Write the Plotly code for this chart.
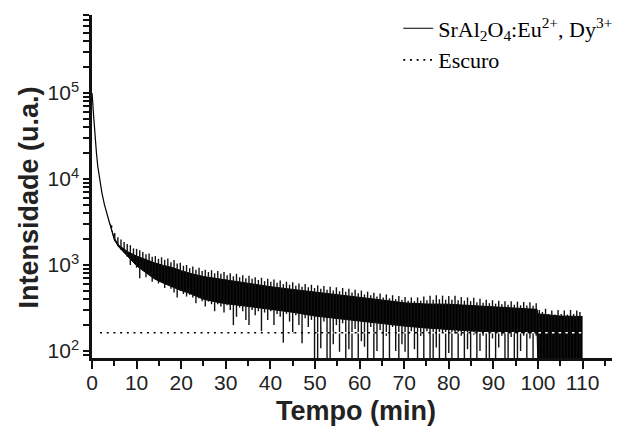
import plotly.graph_objects as go

# ---------------- data ----------------
# smooth initial decay (min, a.u.)
decay_t = [0, 0.05, 0.15, 0.3, 0.5, 0.75, 1.0, 1.3, 1.7, 2.2, 2.8, 3.4, 4.0]
decay_v = [1.0e5, 9.5e4, 8.0e4, 6.0e4, 4.2e4, 2.8e4, 2.0e4, 1.4e4, 1.0e4, 7.0e3, 5.0e3, 3.8e3, 3.0e3]

# solid core of the noisy signal band (read at a few times)
env_t = [4, 5, 6, 7, 8, 10, 12, 14, 16, 18, 20, 22, 25, 28, 30, 35, 40, 45, 50, 55,
         60, 65, 70, 75, 80, 85, 90, 95, 99.8, 100, 105, 110]
env_hi = [3050, 2050, 1700, 1560, 1430, 1270, 1150, 1060, 990, 935, 860, 800, 735, 695, 670, 615,
          560, 520, 485, 455, 428, 392, 363, 352, 350, 338, 322, 313, 305, 270, 255, 252]
env_lo = [3000, 1950, 1620, 1430, 1260, 980, 820, 690, 615, 555, 505, 465, 400, 370, 355, 330,
          305, 282, 255, 238, 222, 208, 195, 185, 177, 171, 167, 164, 162, 60, 60, 60]

# per-sample extremes of the noise (one reading every 0.7 min from 4.4 min)
noise_max = [2900, 2350, 2100, 1980, 1850, 1760, 1700, 1560, 1540, 1480,
             1420, 1330, 1360, 1250, 1270, 1180, 1230, 1150, 1190, 1080,
             1140, 1040, 1060, 980, 1000, 920, 960, 880, 930, 850,
             880, 830, 870, 800, 850, 790, 830, 760, 800, 740,
             790, 720, 760, 700, 750, 690, 720, 670, 710, 650,
             690, 640, 680, 620, 660, 600, 640, 590, 630, 575,
             610, 560, 600, 550, 590, 540, 580, 530, 570, 515,
             560, 505, 550, 495, 540, 490, 530, 480, 515, 470,
             505, 455, 490, 445, 475, 430, 465, 420, 455, 410,
             445, 400, 435, 395, 425, 385, 420, 380, 420, 385,
             430, 390, 440, 395, 445, 400, 440, 395, 435, 395,
             440, 390, 425, 385, 420, 380, 415, 370, 405, 365,
             395, 360, 390, 355, 385, 350, 380, 345, 380, 345,
             375, 340, 372, 338, 370, 335, 360, 300, 285, 310,
             270, 295, 265, 300, 270, 295, 265, 300, 270, 295,
             285]
noise_min = [2700, 1900, 1650, 1500, 1380, 1250, 1000, 1080, 930, 700,
             860, 720, 760, 640, 690, 610, 640, 540, 590, 530,
             480, 420, 500, 460, 430, 450, 420, 360, 410, 380,
             330, 375, 350, 290, 350, 330, 280, 340, 300, 200,
             250, 320, 290, 230, 200, 300, 260, 290, 170, 280,
             230, 290, 200, 270, 250, 125, 270, 220, 160, 260,
             200, 123, 240, 190, 230, 60, 60, 108, 220, 60,
             60, 120, 200, 98, 210, 60, 105, 60, 180, 60,
             130, 112, 60, 190, 60, 100, 175, 60, 150, 60,
             190, 100, 60, 120, 98, 60, 170, 105, 60, 150,
             60, 170, 60, 60, 110, 60, 165, 60, 95, 60,
             160, 60, 150, 60, 105, 60, 155, 60, 100, 150,
             60, 60, 140, 60, 110, 150, 60, 60, 145, 60,
             60, 100, 150, 60, 140, 60, 150, 60, 60, 60,
             60, 60, 60, 60, 60, 60, 60, 60, 60, 60,
             60]
noise_t = [round(4.4 + 0.7 * i, 1) for i in range(len(noise_max))]

# dark (background) level
dark_t = [1.8, 110]
dark_v = [163, 163]

legend_main = "SrAl<sub>2</sub>O<sub>4</sub>:Eu<sup>2+</sup>, Dy<sup>3+</sup>"
legend_dark = "Escuro"

x_ticks = [0, 10, 20, 30, 40, 50, 60, 70, 80, 90, 100, 110]
y_decades = [1e2, 1e3, 1e4, 1e5]
y_decade_text = ["10<sup>2</sup>", "10<sup>3</sup>", "10<sup>4</sup>", "10<sup>5</sup>"]

# ---------------- figure ----------------
fig = go.Figure()

# solid band core
fig.add_trace(go.Scatter(x=env_t, y=env_lo, mode="lines", line=dict(color="black", width=1),
                         showlegend=False, hoverinfo="skip"))
fig.add_trace(go.Scatter(x=env_t, y=env_hi, mode="lines", line=dict(color="black", width=1),
                         fill="tonexty", fillcolor="black", showlegend=False, hoverinfo="skip"))

# noise extremes as vertical strokes
sx, sy = [], []
for t, lo, hi in zip(noise_t, noise_min, noise_max):
    sx += [t, t, None]
    sy += [lo, hi, None]
fig.add_trace(go.Scatter(x=sx, y=sy, mode="lines", line=dict(color="#111111", width=1.4),
                         showlegend=False, hoverinfo="skip"))

# initial decay (carries the legend entry)
fig.add_trace(go.Scatter(x=decay_t, y=decay_v, mode="lines", name=legend_main,
                         line=dict(color="black", width=1.2)))

# dark level: black dots with white gaps
fig.add_trace(go.Scatter(x=dark_t, y=dark_v, mode="lines", showlegend=False,
                         line=dict(color="white", width=1.6, dash="0px,3px,2.5px,1.2px"),
                         hoverinfo="skip"))
fig.add_trace(go.Scatter(x=dark_t, y=dark_v, mode="lines", name=legend_dark,
                         line=dict(color="black", width=1.6, dash="2px,4.7px")))

# y ticks: decades labelled, 2..9 unlabelled
y_tickvals, y_ticktext = [], []
for d, txt in zip([1e1] + y_decades, [""] + y_decade_text):
    for m in range(1, 10):
        v = d * m
        if 83 <= v <= 8.1e5:
            y_tickvals.append(v)
            y_ticktext.append(txt if m == 1 else "")

axis_font = dict(family="Liberation Sans, Arial, sans-serif", size=21, color="#222")

fig.update_xaxes(range=[0, 116.6], showline=True, linewidth=2.5, linecolor="#111",
                 ticks="outside", ticklen=8, tickwidth=1.6, tickcolor="#111",
                 tickvals=x_ticks, tickfont=axis_font, showgrid=False, zeroline=False,
                 ticklabelstandoff=-4,
                 minor=dict(dtick=5, tick0=0, ticks="outside", ticklen=5, tickwidth=1.6,
                            tickcolor="#111", showgrid=False))
fig.update_yaxes(type="log", range=[1.9186, 5.907], showline=True, linewidth=2.5, linecolor="#111",
                 ticks="outside", ticklen=6, tickwidth=1.5, tickcolor="#111",
                 tickvals=y_tickvals, ticktext=y_ticktext, tickfont=axis_font,
                 showgrid=False, zeroline=False)

# the page body keeps an 8 px margin, so the figure is 8 px smaller on each side
fig.update_layout(
    width=614, height=419,
    margin=dict(l=84, r=10, t=7, b=69, autoexpand=False),
    paper_bgcolor="white", plot_bgcolor="white",
    showlegend=True,
    legend=dict(x=1.012, xanchor="right", y=1.022, yanchor="top", bgcolor="rgba(0,0,0,0)",
                traceorder="normal",
                font=dict(family="Liberation Serif, Times New Roman, serif", size=22, color="black"),
                tracegroupgap=0),
    annotations=[
        dict(text="<b>Intensidade (u.a.)</b>", xref="paper", yref="paper",
             x=(28 - 92) / 520, y=(358 - 197.5) / 343, xanchor="center", yanchor="middle",
             textangle=-90, showarrow=False,
             font=dict(family="Liberation Sans, Arial, sans-serif", size=27, color="#222")),
        dict(text="<b>Tempo (min)</b>", xref="paper", yref="paper",
             x=(356 - 92) / 520, y=(358 - 411) / 343, xanchor="center", yanchor="middle",
             showarrow=False,
             font=dict(family="Liberation Sans, Arial, sans-serif", size=27, color="#222")),
    ],
)

fig.write_html("out.html")
